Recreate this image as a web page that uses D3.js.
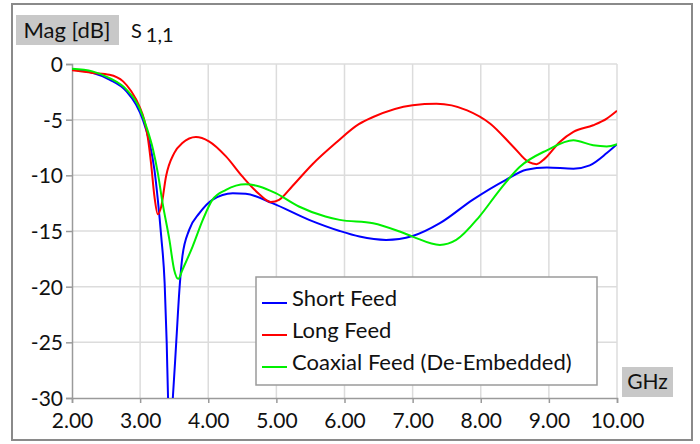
<!DOCTYPE html>
<html>
<head>
<meta charset="utf-8">
<script src="https://cdn.jsdelivr.net/npm/d3@7"></script>
<style>
  body { margin: 0; background: #fff; }
  text { font-family: Lato, "Open Sans", sans-serif; fill: #111; }
</style>
</head>
<body>
<svg id="chart"></svg>
<script>
const width = 700, height = 444;
const margin = { top: 64, right: 83, bottom: 46, left: 72 };
const plotWidth = width - margin.left - margin.right;
const plotHeight = height - margin.top - margin.bottom;

// Frequency ticks (GHz) and magnitude ticks (dB)
const xTicks = [2, 3, 4, 5, 6, 7, 8, 9, 10];
const yTicks = [0, -5, -10, -15, -20, -25, -30];

// Series: [GHz, dB]
const shortFeed = [
    [2.0, -0.5], [2.3, -0.8], [2.55, -1.4], [2.8, -2.45], [2.94, -3.65], [3.04, -5.0],
    [3.14, -7.1], [3.21, -9.5], [3.26, -12.2], [3.31, -15.5], [3.36, -19.7], [3.39, -25],
    [3.41, -30], [3.44, -33], [3.48, -30], [3.53, -25], [3.58, -20], [3.62, -17.3],
    [3.72, -14.9], [3.87, -13.4], [4.06, -12.2], [4.36, -11.6], [4.55, -11.65], [4.94, -12.5],
    [5.48, -14.0], [5.93, -15.0], [6.22, -15.5], [6.61, -15.8], [7.0, -15.45], [7.4, -14.3],
    [7.88, -12.2], [8.37, -10.4], [8.67, -9.5], [8.97, -9.3], [9.36, -9.4], [9.6, -9.1],
    [9.85, -8.0], [10.0, -7.2]
];
const longFeed = [
    [2.0, -0.57], [2.3, -0.8], [2.55, -0.96], [2.75, -1.56], [2.87, -2.45], [2.99, -3.8],
    [3.06, -5.0], [3.11, -6.5], [3.16, -8.9], [3.21, -11.9], [3.26, -13.5], [3.31, -12.8],
    [3.38, -10.1], [3.5, -8.0], [3.62, -7.1], [3.82, -6.56], [4.01, -6.95], [4.26, -8.3],
    [4.5, -10.1], [4.75, -11.7], [4.92, -12.4], [5.04, -12.2], [5.23, -11.0], [5.53, -9.0],
    [5.87, -7.1], [6.21, -5.4], [6.42, -4.76], [7.0, -3.7], [7.35, -3.57], [7.8, -4.16],
    [8.14, -5.36], [8.48, -7.45], [8.7, -8.8], [8.82, -9.0], [8.94, -8.5], [9.16, -7.0],
    [9.36, -6.1], [9.65, -5.5], [9.85, -4.9], [10.0, -4.2]
];
const coaxFeed = [
    [2.0, -0.42], [2.3, -0.66], [2.55, -1.26], [2.8, -2.3], [2.99, -3.95], [3.09, -5.6],
    [3.19, -7.7], [3.26, -9.8], [3.33, -12.5], [3.43, -15.8], [3.5, -18.5], [3.56, -19.3],
    [3.62, -18.5], [3.77, -16.4], [3.92, -14.0], [4.06, -12.2], [4.26, -11.3], [4.55, -10.8],
    [4.75, -11.0], [4.99, -11.6], [5.33, -12.8], [5.72, -13.7], [5.93, -14.0], [6.42, -14.3],
    [6.81, -15.05], [7.0, -15.5], [7.4, -16.25], [7.64, -15.8], [7.98, -13.7], [8.28, -11.3],
    [8.57, -9.25], [8.97, -7.75], [9.36, -6.85], [9.65, -7.3], [9.85, -7.4], [10.0, -7.2]
];

const seriesNames = ["Short Feed", "Long Feed", "Coaxial Feed (De-Embedded)"];
const seriesData = [shortFeed, longFeed, coaxFeed];
const seriesColors = ["#0000ff", "#ff0000", "#00f000"];

const svg = d3.select("#chart")
    .attr("width", width)
    .attr("height", height)
    .attr("viewBox", [0, 0, width, height]);

// Outer frame
svg.append("rect")
    .attr("x", 12).attr("y", 4)
    .attr("width", 680).attr("height", 436)
    .attr("fill", "none")
    .attr("stroke", "#8a8a8a")
    .attr("stroke-width", 2);

const g = svg.append("g")
    .attr("transform", `translate(${margin.left},${margin.top})`);

g.append("defs")
    .append("clipPath")
    .attr("id", "clip")
    .append("rect")
    .attr("width", plotWidth)
    .attr("height", plotHeight);

const xScale = d3.scaleLinear().domain([2, 10]).range([0, plotWidth]);
const yScale = d3.scaleLinear().domain([-30, 0]).range([plotHeight, 0]);

// Gridlines
g.append("g")
    .selectAll("line")
    .data(yTicks.filter(d => d !== -30))
    .enter()
    .append("line")
    .attr("x1", 0).attr("x2", plotWidth)
    .attr("y1", d => yScale(d)).attr("y2", d => yScale(d))
    .attr("stroke", "#dcdcdc")
    .attr("stroke-width", 1.5);

g.append("g")
    .selectAll("line")
    .data(xTicks.filter(d => d !== 2))
    .enter()
    .append("line")
    .attr("x1", d => xScale(d)).attr("x2", d => xScale(d))
    .attr("y1", 0).attr("y2", plotHeight)
    .attr("stroke", "#dcdcdc")
    .attr("stroke-width", 1.5);

// Axes
const xAxis = g.append("g")
    .attr("transform", `translate(0,${plotHeight})`)
    .call(d3.axisBottom(xScale).tickValues(xTicks).tickFormat(d3.format(".2f")).tickSize(5).tickPadding(10));

const yAxis = g.append("g")
    .call(d3.axisLeft(yScale).tickValues(yTicks).tickFormat(d => d).tickSize(6).tickPadding(3));

[xAxis, yAxis].forEach(ax => {
    ax.select(".domain").attr("stroke", "#9a9a9a").attr("stroke-width", 1.5);
    ax.selectAll(".tick line").attr("stroke", "#9a9a9a").attr("stroke-width", 1.5);
    ax.selectAll(".tick text")
        .style("font-family", "Lato, 'Open Sans', sans-serif")
        .style("font-size", "21px")
        .attr("fill", "#111");
});
yAxis.selectAll(".tick text").attr("dy", "0.36em");

// Curves
const lineGenerator = d3.line()
    .x(d => xScale(d[0]))
    .y(d => yScale(d[1]))
    .curve(d3.curveMonotoneX);

const signalContainer = g.append("g").attr("clip-path", "url(#clip)");

seriesData.forEach((data, i) => {
    signalContainer.append("path")
        .attr("d", lineGenerator(data))
        .attr("fill", "none")
        .attr("stroke", seriesColors[i])
        .attr("stroke-width", 2);
});

// Legend
const legend = svg.append("g").attr("transform", "translate(256,277)");
legend.append("rect")
    .attr("width", 341).attr("height", 108)
    .attr("fill", "#fff")
    .attr("stroke", "#9a9a9a")
    .attr("stroke-width", 1.5);

seriesNames.forEach((name, i) => {
    const y = 26 + i * 32;
    legend.append("line")
        .attr("x1", 6).attr("x2", 31)
        .attr("y1", y).attr("y2", y)
        .attr("stroke", seriesColors[i])
        .attr("stroke-width", 2);
    legend.append("text")
        .attr("x", 36).attr("y", y + 3)
        .style("font-size", "22px")
        .text(name);
});

// Title boxes
svg.append("rect")
    .attr("x", 16).attr("y", 15)
    .attr("width", 103).attr("height", 30)
    .attr("fill", "#c8c8c8");
svg.append("text")
    .attr("x", 67).attr("y", 38)
    .attr("text-anchor", "middle")
    .style("font-size", "22px")
    .text("Mag [dB]");

const sTitle = svg.append("text")
    .attr("x", 131).attr("y", 38)
    .style("font-size", "20px");
sTitle.append("tspan").text("S");
sTitle.append("tspan").attr("dx", 4).attr("dy", 4).text("1,1");

// Unit box
svg.append("rect")
    .attr("x", 622).attr("y", 367)
    .attr("width", 51).attr("height", 30)
    .attr("fill", "#c8c8c8");
svg.append("text")
    .attr("x", 647.5).attr("y", 389)
    .attr("text-anchor", "middle")
    .style("font-size", "21px")
    .text("GHz");
</script>
</body>
</html>
